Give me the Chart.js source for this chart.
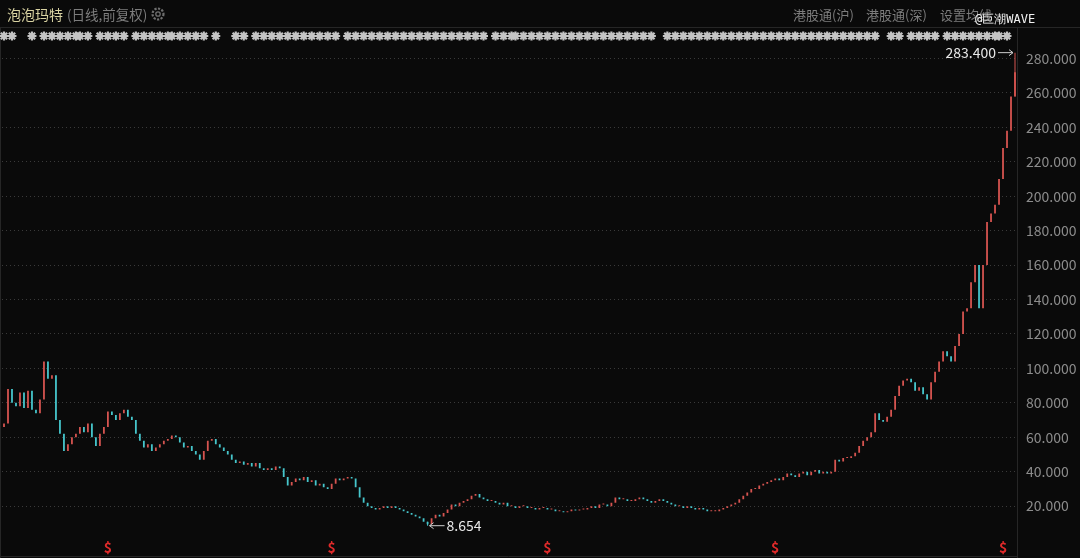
<!DOCTYPE html>
<html>
<head>
<meta charset="utf-8">
<script src="https://cdn.jsdelivr.net/npm/chart.js@4.4.1/dist/chart.umd.min.js"></script>
<style>
  html, body { margin: 0; padding: 0; background: #0a0a0a; }
  #wrap { position: relative; width: 1080px; height: 558px; }
  canvas { position: absolute; left: 0; top: 0; }
  .hd { position: absolute; top: 5px; font-family: "Noto Sans CJK SC", "Noto Sans", sans-serif; font-size: 13px; color: #7d7d7d; white-space: nowrap; }
  #title { left: 7px; color: #d9d3a2; font-size: 14px; top: 4px; }
  #sub { left: 67px; top: 4px; font-size: 13.5px; }
  #gear { position: absolute; left: 150px; top: 6px; }
  #wm { position: absolute; left: 975px; top: 11px; color: #f2f2f2; font-size: 12px; font-family: "DejaVu Sans Mono", monospace; }
</style>
</head>
<body>
<div id="wrap">
  <canvas id="myChart" width="1080" height="558"></canvas>
  <div class="hd" id="title">泡泡玛特</div>
  <div class="hd" id="sub">(日线,前复权)</div>
  <svg id="gear" width="16" height="16" viewBox="0 0 16 16">
    <circle cx="8" cy="8" r="5.5" fill="none" stroke="#6f6f6f" stroke-width="2.2" stroke-dasharray="2.2 1.4"/>
    <circle cx="8" cy="8" r="2.2" fill="none" stroke="#6f6f6f" stroke-width="1.3"/>
  </svg>
  <div class="hd" style="left:793px">港股通(沪)</div>
  <div class="hd" style="left:866px">港股通(深)</div>
  <div class="hd" style="left:940px">设置均线</div>
  <div id="wm">@巨潮WAVE</div>
</div>
<script>
const closes = [
  68, 88, 80, 78, 86, 77, 87, 76, 74, 82,
  104, 94, 96, 70, 62, 52, 56, 60, 62, 66,
  63, 68, 60, 55, 62, 66, 75, 73, 70, 74,
  76, 72, 70, 62, 58, 54, 56, 52, 54, 56,
  58, 59, 61, 60, 57, 54, 55, 52, 50, 47,
  52, 58, 59, 56, 54, 52, 50, 47, 45, 46,
  44, 45, 43, 45, 42, 41, 42, 41, 43, 42,
  37, 32, 34, 36, 35, 37, 34, 35, 32, 33,
  31, 30, 33, 36, 35, 36, 37, 36, 31, 25,
  22, 20, 19, 18, 19, 20, 19, 20, 19, 18,
  17, 16, 15, 14, 13, 11, 9.5, 13, 15, 14,
  16, 18, 21, 20, 22, 23, 24, 26, 27, 25,
  24, 23, 23, 22, 21, 22, 20, 20, 19, 20,
  20, 19, 19, 18, 19, 19, 18, 18, 17, 17,
  16.5, 17, 18, 17.5, 18, 18, 19, 20, 19, 21,
  21, 20, 22, 25, 24, 24, 23, 23, 24, 25,
  24, 23, 22, 23, 24, 23, 22, 21, 20, 20,
  19, 20, 19, 18, 19, 18, 17, 17, 17, 18,
  19, 20, 21, 22, 24, 26, 28, 30, 30, 32,
  33, 34, 35, 36, 35, 37, 39, 38, 37, 39,
  40, 38, 40, 41, 39, 40, 39, 40, 47, 46,
  48, 48, 49, 51, 55, 58, 60, 63, 74, 70,
  69, 72, 76, 84, 90, 93, 94, 92, 87, 89,
  85, 82, 92, 98, 104, 110, 107, 104, 113, 120,
  133, 135, 150, 160, 135, 160, 185, 190, 195, 210,
  228, 238, 258, 272
];
const firstOpen = 66;

// extreme wicks labelled on the chart
const highIdx = 253, highVal = 283.4;
const lowIdx = 106, lowVal = 8.654;

// news markers row (index ranges) and dividend markers
const newsRanges = [[0,3],[7,7],[10,18],[19,22],[24,31],[33,41],[42,46],[48,50],[53,54],[58,60],
  [63,83],[86,116],[118,120],[123,127],[128,155],[156,163],[166,187],[188,196],[198,211],[212,219],
  [222,224],[227,233],[236,248],[249,252]];
const divIdx = [26, 82, 136, 193, 250];

const yTicks = [20, 40, 60, 80, 100, 120, 140, 160, 180, 200, 220, 240, 260, 280];

const labels = closes.map((v, i) => i);
const opens = closes.map((v, i) => i === 0 ? firstOpen : closes[i - 1]);
const bodies = closes.map((c, i) => [opens[i], c]);
const colors = closes.map((c, i) => c >= opens[i] ? 'rgb(214, 84, 80)' : 'rgb(70, 198, 204)');
const wicks = closes.map((c, i) => {
  if (i === highIdx) return [Math.min(opens[i], c), highVal];
  if (i === lowIdx) return [lowVal, Math.max(opens[i], c)];
  return null;
});

const FONT = '"Noto Sans CJK SC", "Noto Sans", sans-serif';

const deco = {
  id: 'deco',
  beforeDraw(chart) {
    const ctx = chart.ctx;
    const area = chart.chartArea;
    ctx.save();
    ctx.fillStyle = '#0a0a0a';
    ctx.fillRect(0, 0, chart.width, chart.height);
    ctx.strokeStyle = '#262626';
    ctx.lineWidth = 1;
    ctx.beginPath();
    ctx.moveTo(0, 27.5); ctx.lineTo(chart.width, 27.5);
    ctx.moveTo(area.right + 0.5, 28); ctx.lineTo(area.right + 0.5, chart.height);
    ctx.moveTo(0.5, 28); ctx.lineTo(0.5, chart.height);
    ctx.moveTo(0, chart.height - 1.5); ctx.lineTo(area.right, chart.height - 1.5);
    ctx.stroke();
    ctx.restore();
  },
  afterDatasetsDraw(chart) {
    const ctx = chart.ctx;
    const x = chart.scales.x, y = chart.scales.y;
    ctx.save();
    // news markers
    ctx.strokeStyle = '#c4c4c4';
    ctx.lineWidth = 2.2;
    newsRanges.forEach(([a, b]) => {
      for (let i = a; i <= b; i += 2) {
        const px = x.getPixelForValue(i), py = 36;
        ctx.beginPath();
        for (let k = 0; k < 4; k++) {
          const ang = k * Math.PI / 4;
          ctx.moveTo(px - 4.5 * Math.cos(ang), py - 4.5 * Math.sin(ang));
          ctx.lineTo(px + 4.5 * Math.cos(ang), py + 4.5 * Math.sin(ang));
        }
        ctx.stroke();
      }
    });
    // dividend markers
    ctx.fillStyle = '#e02a2a';
    ctx.font = 'bold 14px ' + FONT;
    ctx.textAlign = 'center';
    ctx.textBaseline = 'middle';
    divIdx.forEach(i => ctx.fillText('$', x.getPixelForValue(i), 548));
    // high / low labels
    ctx.fillStyle = '#e8e8e8';
    ctx.strokeStyle = '#cfcfcf';
    ctx.lineWidth = 1;
    ctx.font = '14px ' + FONT;
    const hx = x.getPixelForValue(highIdx), hy = y.getPixelForValue(highVal);
    ctx.textAlign = 'right';
    ctx.fillText(highVal.toFixed(3), hx - 19, hy);
    ctx.beginPath();
    ctx.moveTo(hx - 17, hy); ctx.lineTo(hx - 2, hy);
    ctx.moveTo(hx - 6, hy - 3); ctx.lineTo(hx - 2, hy); ctx.lineTo(hx - 6, hy + 3);
    ctx.stroke();
    const lx = x.getPixelForValue(lowIdx), ly = y.getPixelForValue(lowVal);
    ctx.textAlign = 'left';
    ctx.fillText(lowVal.toFixed(3), lx + 19, ly);
    ctx.beginPath();
    ctx.moveTo(lx + 2, ly); ctx.lineTo(lx + 17, ly);
    ctx.moveTo(lx + 6, ly - 3); ctx.lineTo(lx + 2, ly); ctx.lineTo(lx + 6, ly + 3);
    ctx.stroke();
    ctx.restore();
  }
};

const ctx = document.getElementById('myChart').getContext('2d');
const myChart = new Chart(ctx, {
  type: 'bar',
  data: {
    labels: labels,
    datasets: [{
      data: bodies,
      backgroundColor: colors,
      borderWidth: 0,
      barPercentage: 0.45,
      categoryPercentage: 1,
      minBarLength: 1,
      grouped: false
    }, {
      data: wicks,
      backgroundColor: colors,
      borderWidth: 0,
      barPercentage: 0.25,
      categoryPercentage: 1,
      grouped: false
    }]
  },
  options: {
    responsive: false,
    animation: false,
    layout: { padding: { top: 43, left: 2, bottom: 2, right: 0 } },
    plugins: { legend: { display: false }, tooltip: { enabled: false } },
    scales: {
      x: {
        display: false,
        grid: { display: false }
      },
      y: {
        position: 'right',
        min: 0,
        max: 289,
        afterBuildTicks: (scale) => { scale.ticks = yTicks.map(v => ({ value: v })); },
        afterFit: (scale) => { scale.width = 63; },
        border: { display: false, dash: [1, 3] },
        grid: { color: '#3a3a3a', drawTicks: false },
        ticks: {
          color: '#8c8c8c',
          padding: 9,
          font: { size: 14, family: FONT },
          callback: (v) => Number(v).toFixed(3)
        }
      }
    }
  },
  plugins: [deco]
});
</script>
</body>
</html>
